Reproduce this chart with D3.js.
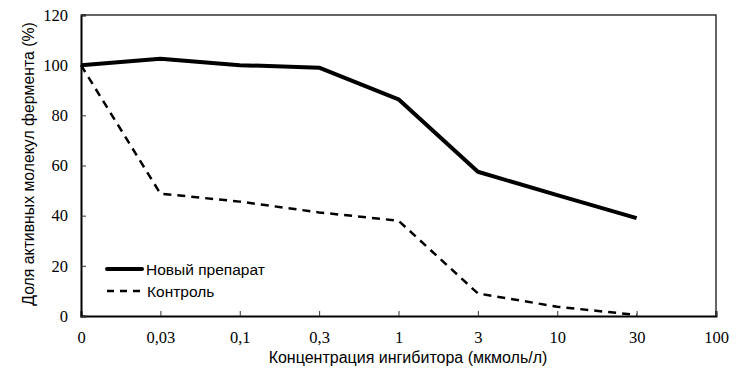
<!DOCTYPE html>
<html><head><meta charset="utf-8">
<script src="https://cdn.jsdelivr.net/npm/d3@7"></script>
<style>body{margin:0;background:#fff}</style>
</head><body><svg id="c" width="737" height="378"></svg>
<script>
const categories = ["0","0,03","0,1","0,3","1","3","10","30","100"];
const newDrug = [100, 102.6, 100, 99, 86.4, 57.5, 48.2, 39];
const control = [100, 48.8, 45.6, 41.3, 38, 9, 3.7, 0.4];
const yTicks = [0,20,40,60,80,100,120];
const seriesNames = ["Новый препарат","Контроль"];

const svg = d3.select("#c");
const m = {l:81, t:15, r:716, b:316};
const x = d3.scalePoint().domain(categories).range([m.l, m.r]);
const y = d3.scaleLinear().domain([0,120]).range([m.b, m.t]);
const serif = "'Liberation Serif','Times New Roman',serif";
const sans = "'Liberation Sans',Arial,sans-serif";

svg.append("path").attr("d",`M${m.l},${m.t}H${m.r}V${m.b}`).attr("fill","none").attr("stroke","#333").attr("stroke-width",1.5);

const xa = svg.append("g").attr("transform",`translate(0,${m.b})`)
  .call(d3.axisBottom(x).tickSize(-5).tickPadding(15));
xa.select(".domain").attr("stroke","#000").attr("stroke-width",2);
xa.selectAll("line").attr("stroke","#333");
xa.selectAll("text").style("font-family",serif).style("font-size","16.5px").attr("fill","#000");

const ya = svg.append("g").attr("transform",`translate(${m.l},0)`)
  .call(d3.axisLeft(y).tickValues(yTicks).tickSize(-5).tickPadding(13));
ya.select(".domain").attr("stroke","#000").attr("stroke-width",2);
ya.selectAll("line").attr("stroke","#333");
ya.selectAll("text").style("font-family",serif).style("font-size","16.5px").attr("fill","#000");

const line = d3.line().x((d,i)=>x(categories[i])).y(d=>y(d));
svg.append("path").datum(control).attr("d",line).attr("fill","none")
  .attr("stroke","#000").attr("stroke-width",2.5).attr("stroke-dasharray","8,6");
svg.append("path").datum(newDrug).attr("d",line).attr("fill","none")
  .attr("stroke","#000").attr("stroke-width",4).attr("stroke-linejoin","round");

const lg = svg.append("g");
lg.append("line").attr("x1",107).attr("x2",142).attr("y1",269).attr("y2",269).attr("stroke","#000").attr("stroke-width",4).attr("stroke-linecap","round");
lg.append("line").attr("x1",107).attr("x2",142).attr("y1",291).attr("y2",291).attr("stroke","#000").attr("stroke-width",2.5).attr("stroke-dasharray","7,6");
lg.append("text").attr("x",146).attr("y",275).text(seriesNames[0]).style("font-family",sans).style("font-size","15.5px");
lg.append("text").attr("x",147).attr("y",297).text(seriesNames[1]).style("font-family",sans).style("font-size","15.5px");

svg.append("text").attr("x",408).attr("y",363).attr("text-anchor","middle")
  .style("font-family",sans).style("font-size","16px").text("Концентрация ингибитора (мкмоль/л)");
svg.append("text").attr("transform","translate(34,164) rotate(-90)").attr("text-anchor","middle")
  .style("font-family",sans).style("font-size","15.8px").text("Доля активных молекул фермента (%)");
</script></body></html>
